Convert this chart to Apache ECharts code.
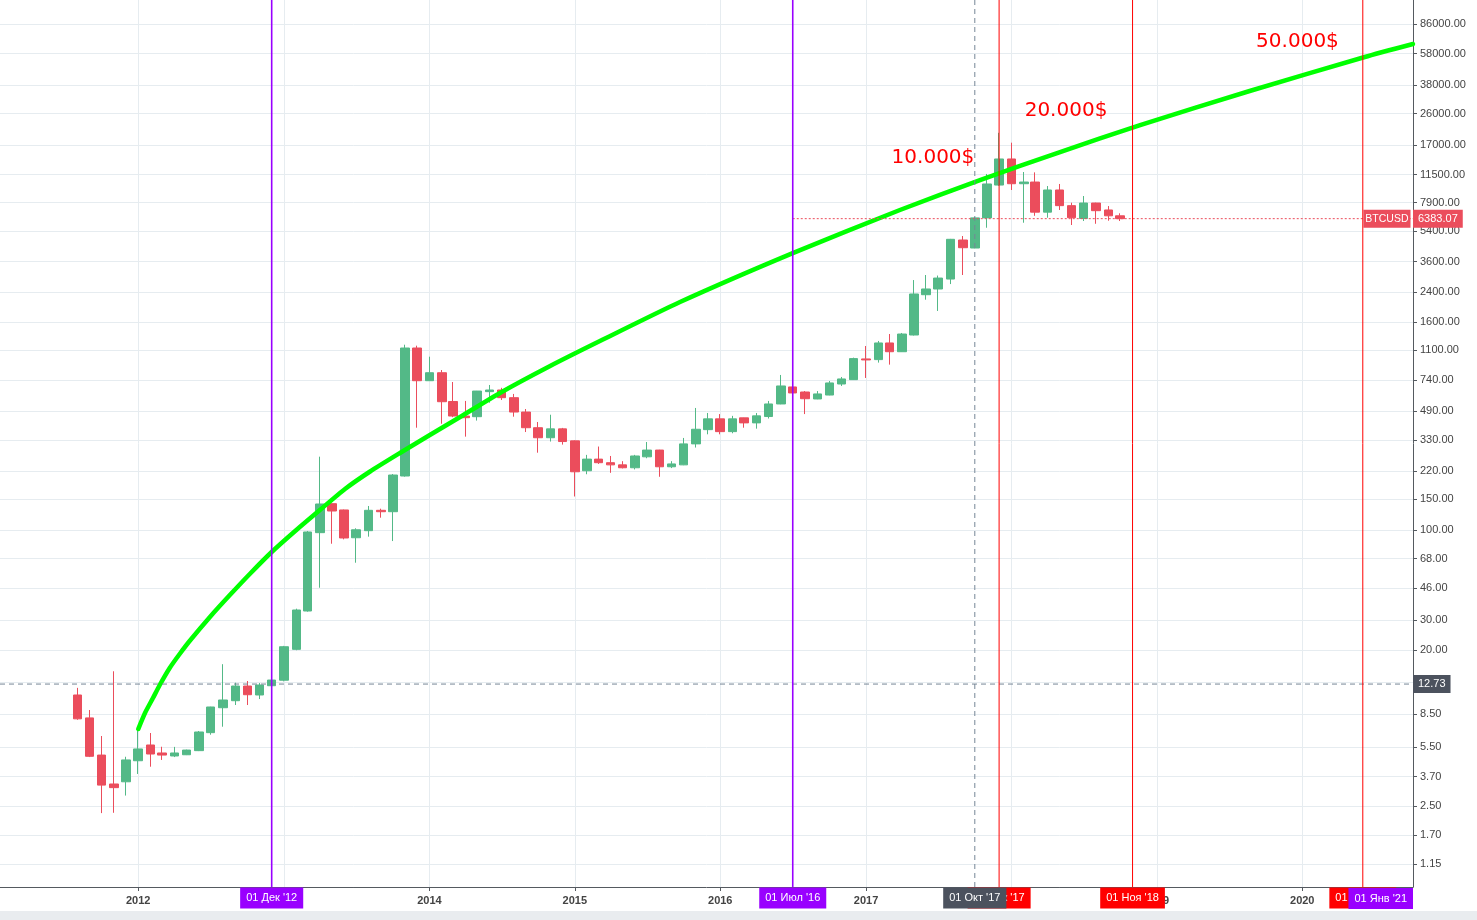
<!DOCTYPE html>
<html>
<head>
<meta charset="utf-8">
<script src="https://cdn.jsdelivr.net/npm/echarts@6/dist/echarts.min.js"></script>
<style>
html,body{margin:0;padding:0;background:#ffffff;}
#chart{width:1477px;height:920px;}
</style>
</head>
<body>
<div id="chart"></div>
<script>
// ---------------- DATA ----------------
const months = [
 '2011-08-01','2011-09-01','2011-10-01','2011-11-01','2011-12-01',
 '2012-01-01','2012-02-01','2012-03-01','2012-04-01','2012-05-01','2012-06-01','2012-07-01','2012-08-01','2012-09-01','2012-10-01','2012-11-01','2012-12-01',
 '2013-01-01','2013-02-01','2013-03-01','2013-04-01','2013-05-01','2013-06-01','2013-07-01','2013-08-01','2013-09-01','2013-10-01','2013-11-01','2013-12-01',
 '2014-01-01','2014-02-01','2014-03-01','2014-04-01','2014-05-01','2014-06-01','2014-07-01','2014-08-01','2014-09-01','2014-10-01','2014-11-01','2014-12-01',
 '2015-01-01','2015-02-01','2015-03-01','2015-04-01','2015-05-01','2015-06-01','2015-07-01','2015-08-01','2015-09-01','2015-10-01','2015-11-01','2015-12-01',
 '2016-01-01','2016-02-01','2016-03-01','2016-04-01','2016-05-01','2016-06-01','2016-07-01','2016-08-01','2016-09-01','2016-10-01','2016-11-01','2016-12-01',
 '2017-01-01','2017-02-01','2017-03-01','2017-04-01','2017-05-01','2017-06-01','2017-07-01','2017-08-01','2017-09-01','2017-10-01','2017-11-01','2017-12-01',
 '2018-01-01','2018-02-01','2018-03-01','2018-04-01','2018-05-01','2018-06-01','2018-07-01','2018-08-01','2018-09-01','2018-10-01'
];
const opens = [
 11.0, 8.1, 4.93, 3.35, 3.45,
 4.57, 5.64, 5.07, 4.87, 4.95, 5.23, 6.65, 9.28, 10.19, 12.4, 11.0, 12.45,
 13.4, 20.24, 33.78, 96.2, 141.7, 130.3, 89.9, 98.8, 129.7, 127.3, 205.1, 1134,
 732.6, 815, 555, 457, 453, 633, 647, 584, 482, 391, 342, 385,
 328, 220, 257, 245, 238, 229, 265, 290, 232, 238, 315, 381,
 440, 371, 446, 417, 454, 537, 674, 630, 574, 605, 701, 743,
 980, 971, 1213, 1079, 1349, 2311, 2494, 2849, 4800, 4312, 6450, 10000,
 14170, 10179, 10413, 6963, 9362, 7595, 6400, 7866, 7169, 6632
];
const highs = [
 12.1, 9.0, 6.36, 15.1, 4.82,
 7.1, 6.62, 5.51, 5.50, 5.30, 6.80, 9.40, 16.6, 12.96, 13.26, 12.9, 14.18,
 21.2, 34.84, 98.4, 265.5, 142.5, 131, 102, 137.4, 132.5, 210.6, 1185, 1170,
 1009.6, 845, 720, 559, 639, 692, 666, 614, 502, 422, 465, 390,
 330, 272, 304, 268, 250, 272, 323, 291, 250, 341, 509, 476,
 469, 458, 447, 476, 559, 791, 720, 638, 638, 730, 770, 997,
 1165, 1246, 1367, 1386, 2811, 3007, 2985, 4870, 5063, 6525, 11600, 20100,
 17615, 11905, 11850, 9871, 10145, 7900, 8638, 7900, 7555, 6857
];
const lows = [
 7.9, 4.8, 2.27, 2.28, 2.87,
 3.83, 4.22, 4.62, 4.80, 4.93, 5.20, 6.47, 7.2, 9.62, 9.62, 10.42, 12.4,
 13.2, 20.0, 33.5, 46.1, 83.0, 88.0, 64.4, 91.2, 117.5, 86.0, 203.4, 391,
 730, 412.3, 450, 347, 430, 546, 566, 453, 369, 280, 325, 312,
 156, 210, 241, 214, 227, 224, 260, 203, 228, 237, 300, 358,
 358, 363, 391, 386, 442, 535, 612, 469, 572, 603, 683, 740,
 760, 933, 908, 1075, 1340, 2162, 1860, 2664, 3007, 4300, 5654, 9900,
 9362, 6046, 6632, 6465, 7169, 5864, 6185, 5962, 6210, 6185
];
const closes = [
 8.0, 4.85, 3.30, 3.19, 4.62,
 5.35, 5.00, 4.93, 5.07, 5.27, 6.71, 9.37, 10.29, 12.40, 11.04, 12.57, 13.43,
 20.96, 34.24, 97.1, 141.1, 128.5, 89.6, 100.0, 129.7, 127.3, 207.8, 1134, 732.6,
 815, 553.3, 457, 447, 638, 647, 584, 482, 391, 342, 385, 325,
 217, 257, 245, 238, 229, 268, 290, 232, 241, 315, 383, 440,
 371, 440, 417, 458, 537, 683, 622, 576, 614, 711, 750, 984,
 967, 1213, 1079, 1367, 2334, 2495, 2887, 4845, 4330, 6450, 10145, 14170,
 10179, 10413, 6963, 9362, 7595, 6465, 7866, 7102, 6632, 6383.07
];

// green growth curve
const curveDates = [
 '2012-01-01','2012-01-18','2012-02-07','2012-02-24','2012-03-20','2012-04-14','2012-05-09',
 '2012-06-29','2012-08-18','2012-10-07','2012-12-01','2013-01-29','2013-04-01','2013-06-03',
 '2013-08-05','2013-10-19','2014-01-02','2014-03-19','2014-06-27','2014-10-31','2015-03-05',
 '2015-09-22','2016-07-01','2017-03-27','2017-10-14','2018-05-03','2018-11-20','2019-08-22',
 '2020-06-06','2020-10-05'
];
const curveValues = [
 6.98, 8.65, 10.56, 12.57, 15.78, 19.02, 22.62,
 31.2, 41.8, 55.4, 74.3, 98.4, 130.2, 172.4,
 217.8, 278.9, 354.8, 451.2, 622, 892, 1245,
 2097, 4031, 7169, 10695, 15546, 22305, 35132,
 55350, 65830
];

// price axis tick labels
const priceTicks = [1.15, 1.7, 2.5, 3.7, 5.5, 8.5, 20, 30, 46, 68, 100, 150, 220, 330, 490, 740,
 1100, 1600, 2400, 3600, 5400, 7900, 11500, 17000, 26000, 38000, 58000, 86000];
const hiddenPriceTicks = [13];
const yearTicks = ['2012-01-01','2013-01-01','2014-01-01','2015-01-01','2016-01-01','2017-01-01','2018-01-01','2019-01-01','2020-01-01'];

// vertical marker lines
const markerDates = ['2012-12-01', '2016-07-01', '2017-12-01', '2018-11-01', '2020-06-01'];
const markerLabels = ["01 Дек '12", "01 Июл '16", "01 Дек '17", "01 Ноя '18", "01 Июн '20"];
const markerKinds = ['purple', 'purple', 'red', 'red', 'red'];
const farDate = '2021-01-01';
const farLabel = "01 Янв '21";

// crosshair
const crossDate = '2017-10-01';
const crossDateLabel = "01 Окт '17";
const crossPrice = 12.73;

// last price
const symbolName = 'BTCUSD';
const lastPrice = 6383.07;
const priceLineStart = '2016-07-01';

// red text notes
const notes = ['10.000$', '20.000$', '50.000$'];
const noteDates = ['2017-06-18', '2018-05-18', '2019-12-20'];
const noteValues = [14360, 26890, 67600];

// axis range
const xMin = '2011-01-19';
const xMax = '2020-10-05';
const yMin = 0.846;
const yMax = 118500;

// ---------------- STYLE ----------------
const UP = '#53b987', DOWN = '#eb4d5c';
const KIND_COLOR = {purple: '#9900ff', red: '#ff0000'};
const KIND_WIDTH = {purple: 1.6, red: 1};
const GRID_COLOR = '#e6ecf0';
const AXIS_COLOR = '#555a60';
const TEXT_COLOR = '#444444';
const CROSS_COLOR = '#758696';
const CROSS_BG = '#4c525e';
const FONT = 'Liberation Sans';

function ts(s) {
  const p = s.split('-');
  return new Date(+p[0], +p[1] - 1, +p[2]).getTime();
}

const candleData = months.map((m, i) => [ts(m), opens[i], closes[i], lows[i], highs[i]]);
const curveData = curveDates.map((d, i) => [ts(d), curveValues[i]]);

// a vertical line through the full price range, with its date box under the axis
function verticalSeries(date, text, color, width, boxColor, dashed, z) {
  const t = ts(date);
  return {
    type: 'line',
    data: [[t, yMin], [t, yMax]],
    symbol: 'none', showSymbol: false, silent: true, z: z,
    lineStyle: {color: color, width: width, type: dashed ? [5, 4] : 'solid', opacity: 1},
    emphasis: {disabled: true},
    markPoint: {
      silent: true, animation: false, symbol: 'rect', symbolSize: 1, z: z + 10,
      itemStyle: {color: 'rgba(0,0,0,0)'},
      emphasis: {disabled: true},
      data: [{coord: [t, yMin], value: text,
        label: {show: true, position: 'bottom', distance: 0, formatter: text,
          color: '#ffffff', backgroundColor: boxColor, padding: [4, 6, 4, 6],
          fontSize: 11, lineHeight: 13, fontFamily: FONT}}]
    }
  };
}

const noteMarks = notes.map((t, i) => ({
  coord: [ts(noteDates[i]), noteValues[i]],
  value: t,
  label: {show: true, position: 'inside', formatter: t, color: '#ff0000', fontSize: 20,
    fontFamily: 'DejaVu Sans'}
}));
noteMarks.push({
  coord: [ts(xMax), lastPrice],
  value: symbolName,
  label: {show: true, position: 'left', distance: 2, formatter: symbolName, color: '#ffffff',
    backgroundColor: DOWN, padding: [3, 2, 2, 2], fontSize: 10.5, lineHeight: 13, fontFamily: FONT}
});

const series = [
  {
    type: 'candlestick',
    name: 'BTCUSD',
    data: candleData,
    encode: {x: 0, y: [1, 2, 3, 4]},
    barWidth: 9,
    silent: true,
    z: 2,
    itemStyle: {color: UP, color0: DOWN, borderColor: UP, borderColor0: DOWN, borderWidth: 1}
  },
  {
    type: 'line',
    name: 'curve',
    data: curveData,
    smooth: 0.2,
    symbol: 'none',
    showSymbol: false,
    silent: true,
    z: 3,
    lineStyle: {color: '#00ff00', width: 4.5, cap: 'round', join: 'round'},
    markPoint: {
      silent: true, animation: false, symbol: 'rect', symbolSize: 1, z: 6,
      itemStyle: {color: 'rgba(0,0,0,0)'},
      emphasis: {disabled: true},
      data: noteMarks
    }
  },
  {
    type: 'line',
    name: 'price',
    data: [[ts(priceLineStart), lastPrice], [ts(xMax), lastPrice]],
    symbol: 'none',
    showSymbol: false,
    silent: true,
    z: 4,
    lineStyle: {color: DOWN, width: 1, type: [2, 2]},
    endLabel: {show: true, formatter: lastPrice.toFixed(2), distance: 0, color: '#ffffff',
      backgroundColor: DOWN, padding: [3, 5, 2, 5], fontSize: 11, lineHeight: 13, fontFamily: FONT}
  },
  {
    type: 'line',
    name: 'crossPrice',
    data: [[ts(xMin), crossPrice], [ts(xMax), crossPrice]],
    symbol: 'none',
    showSymbol: false,
    silent: true,
    z: 4,
    lineStyle: {color: CROSS_COLOR, width: 1, type: [5, 4]},
    endLabel: {show: true, formatter: crossPrice.toFixed(2), distance: 0, color: '#ffffff',
      backgroundColor: CROSS_BG, padding: [3, 5, 2, 5], fontSize: 11, lineHeight: 13, fontFamily: FONT}
  }
];
markerDates.forEach((d, i) => {
  const k = markerKinds[i];
  series.push(verticalSeries(d, markerLabels[i], KIND_COLOR[k], KIND_WIDTH[k], KIND_COLOR[k], false, 5));
});
series.push(verticalSeries(crossDate, crossDateLabel, CROSS_COLOR, 1, CROSS_BG, true, 7));

const chart = echarts.init(document.getElementById('chart'), null, {renderer: 'canvas'});

chart.setOption({
  animation: false,
  backgroundColor: '#ffffff',
  textStyle: {fontFamily: FONT},
  grid: {left: 0, right: 64, top: 0, bottom: 33, containLabel: false, outerBoundsMode: 'none'},
  xAxis: {
    type: 'value',
    scale: true,
    min: ts(xMin), max: ts(xMax),
    axisLine: {show: true, onZero: false, lineStyle: {color: AXIS_COLOR, width: 1}},
    axisTick: {show: true, length: 4, lineStyle: {color: AXIS_COLOR}, customValues: yearTicks.map(ts)},
    axisLabel: {show: true, customValues: yearTicks.map(ts), color: TEXT_COLOR, fontSize: 11,
      fontWeight: 'bold', fontFamily: FONT, margin: 8,
      formatter: v => String(new Date(v).getFullYear())},
    splitLine: {show: true, lineStyle: {color: GRID_COLOR, width: 1}},
    minorTick: {show: false}, minorSplitLine: {show: false}
  },
  yAxis: {
    type: 'log', logBase: 10,
    position: 'right',
    min: yMin, max: yMax,
    axisLine: {show: true, lineStyle: {color: AXIS_COLOR, width: 1}},
    axisTick: {show: true, inside: false, length: 4, lineStyle: {color: AXIS_COLOR},
      customValues: priceTicks.concat(hiddenPriceTicks).sort((a, b) => a - b)},
    axisLabel: {show: true, customValues: priceTicks, color: TEXT_COLOR, fontSize: 11, fontFamily: FONT,
      margin: 7, formatter: v => Number(v).toFixed(2)},
    splitLine: {show: true, lineStyle: {color: GRID_COLOR, width: 1}},
    minorTick: {show: false}, minorSplitLine: {show: false}
  },
  series: series
});

// label of the far marker (01 Jan '21) - clamped to the right edge of the plot
const xRight = chart.convertToPixel({xAxisIndex: 0}, ts(xMax));
const xFar = chart.convertToPixel({xAxisIndex: 0}, ts(farDate));
const yBottom = chart.convertToPixel({yAxisIndex: 0}, yMin);
chart.setOption({
  graphic: [
    {type: 'rect', z: 0, left: 0, bottom: 0, shape: {width: 1477, height: 9}, style: {fill: '#e9ecef'}, silent: true},
    {type: 'text', z: 100, x: Math.min(xFar, xRight), y: yBottom + 1,
     style: {text: farLabel, fill: '#ffffff', backgroundColor: KIND_COLOR.purple, padding: [4, 6, 4, 6],
       fontSize: 11, lineHeight: 13, fontFamily: FONT, align: 'right', verticalAlign: 'top'},
     silent: true}
  ]
});
</script>
</body>
</html>
